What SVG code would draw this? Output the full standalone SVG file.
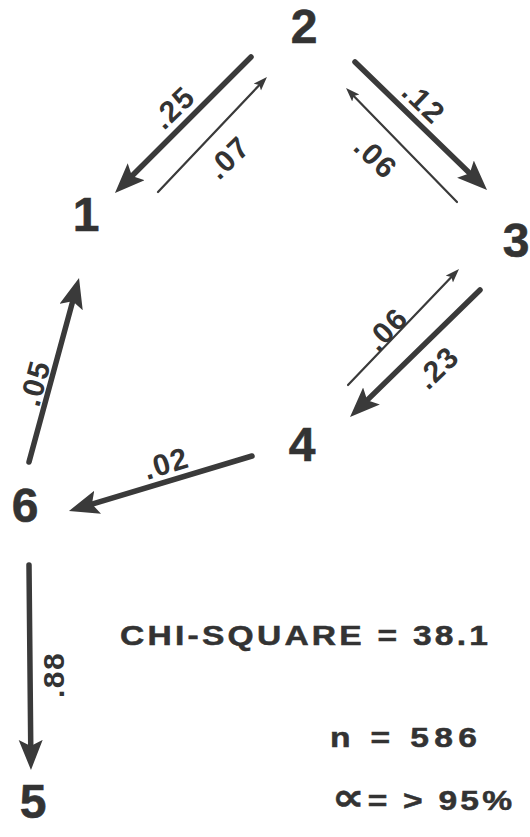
<svg xmlns="http://www.w3.org/2000/svg" width="530" height="837" viewBox="0 0 530 837">
<style>
  .node { font-family: "Liberation Sans", Arial, sans-serif; font-weight: bold; font-size: 48px; fill: #333; stroke: #333; stroke-width: 0.6; text-anchor: middle; }
  .lbl { font-family: "Liberation Sans", Arial, sans-serif; font-weight: bold; font-size: 30px; letter-spacing: 1.5px; fill: #333; }
  .stat { font-family: "Liberation Sans", "DejaVu Sans", Arial, sans-serif; font-weight: bold; font-size: 28px; fill: #333; stroke: #333; stroke-width: 0.5; }
  .thick { stroke: #3a3a3a; stroke-width: 5.5; stroke-linecap: round; fill: none; marker-end: url(#bigHead); }
  .thin { stroke: #3a3a3a; stroke-width: 2.2; stroke-linecap: round; fill: none; marker-end: url(#smallHead); }
</style>
<defs>
  <marker id="bigHead" markerUnits="userSpaceOnUse" markerWidth="32" markerHeight="26" refX="12" refY="12" orient="auto">
    <path d="M0,0 L30,12 L0,24 L6,12 z" fill="#3a3a3a"/>
  </marker>
  <marker id="smallHead" markerUnits="userSpaceOnUse" markerWidth="16" markerHeight="12" refX="3" refY="5" orient="auto">
    <path d="M0,0 L14,5 L0,10 L3,5 z" fill="#3a3a3a"/>
  </marker>
</defs>
<rect width="530" height="837" fill="#ffffff"/>

<g id="connectors">
  <line class="thick" x1="251" y1="57" x2="127.7" y2="180.3"/>
  <line class="thin" x1="158" y1="192" x2="259.4" y2="85"/>
  <line class="thick" x1="355" y1="62" x2="474.1" y2="177.5"/>
  <line class="thin" x1="457" y1="202" x2="353.7" y2="95.9"/>
  <line class="thin" x1="348" y1="385" x2="451.4" y2="277"/>
  <line class="thick" x1="480" y1="290" x2="362.9" y2="404.4"/>
  <line class="thick" x1="29" y1="462" x2="74.3" y2="295.4"/>
  <line class="thick" x1="252" y1="456" x2="86.2" y2="505.8"/>
  <line class="thick" x1="29" y1="565" x2="30.8" y2="752"/>

  <text class="lbl" x="164" y="131" transform="rotate(-44 164 131)">.25</text>
  <text class="lbl" x="219" y="181" transform="rotate(-44 219 181)">.07</text>
  <text class="lbl" x="400" y="94" transform="rotate(44 400 94)">.12</text>
  <text class="lbl" x="352" y="149" transform="rotate(44 352 149)">.06</text>
  <text class="lbl" x="378" y="353" transform="rotate(-46 378 353)">.06</text>
  <text class="lbl" x="428" y="391" transform="rotate(-44 428 391)">.23</text>
  <text class="lbl" x="39" y="408" transform="rotate(-75 39 408)">.05</text>
  <text class="lbl" x="147" y="480" transform="rotate(-17 147 480)">.02</text>
  <text class="lbl" x="64" y="698" transform="rotate(-90 64 698)">.88</text>
</g>

<g id="node2"><text class="node" x="304" y="43">2</text></g>
<g id="node1"><text class="node" x="86" y="231">1</text></g>
<g id="node3"><text class="node" x="516" y="257">3</text></g>
<g id="node4"><text class="node" x="302" y="461">4</text></g>
<g id="node6"><text class="node" x="25" y="522">6</text></g>
<g id="node5"><text class="node" x="33" y="818">5</text></g>

<g id="stats" transform="scale(1.2 1)">
  <text class="stat" x="100" y="645" textLength="306.7" lengthAdjust="spacing">CHI-SQUARE = 38.1</text>
  <text class="stat" x="275" y="747" textLength="122.5" lengthAdjust="spacing">n = 586</text>
  <text class="stat" x="276.7" y="810" textLength="150" lengthAdjust="spacing"><tspan style="font-size:38px">∝</tspan>= &gt; 95%</text>
</g>
</svg>
